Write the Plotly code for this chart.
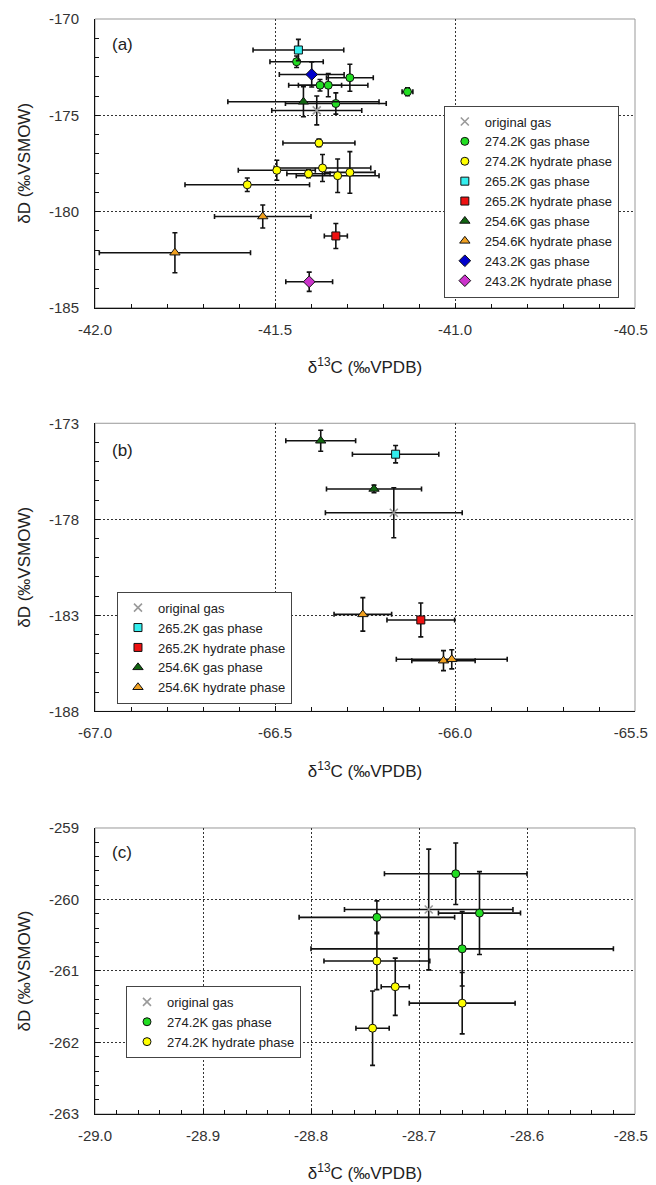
import plotly.graph_objects as go

# ---------------- Panel (a) data ----------------
A_ORIG_X = [-41.384]; A_ORIG_Y = [-174.75]; A_ORIG_XE = [0.125]; A_ORIG_YE = [0.75]
A_G274_X = [-41.440, -41.292, -41.375, -41.352, -41.331, -41.132]
A_G274_Y = [-172.22, -173.05, -173.44, -173.44, -174.39, -173.78]
A_G274_XE = [0.074, 0.065, 0.06, 0.11, 0.14, 0.015]
A_G274_YE = [0.3, 0.7, 0.3, 0.6, 0.55, 0.2]
A_H274_X = [-41.378, -41.495, -41.407, -41.368, -41.326, -41.292, -41.577]
A_H274_Y = [-176.44, -177.86, -178.04, -177.74, -178.14, -177.97, -178.61]
A_H274_XE = [0.10, 0.107, 0.06, 0.134, 0.115, 0.07, 0.173]
A_H274_YE = [0.2, 0.52, 0.2, 0.7, 0.87, 1.08, 0.35]
A_G265_X = [-41.435]; A_G265_Y = [-171.61]; A_G265_XE = [0.126]; A_G265_YE = [0.55]
A_H265_X = [-41.331]; A_H265_Y = [-181.27]; A_H265_XE = [0.032]; A_H265_YE = [0.65]
A_G254_X = [-41.421]; A_G254_Y = [-174.30]; A_G254_XE = [0.21]; A_G254_YE = [0.78]
A_H254_X = [-41.534, -41.778]; A_H254_Y = [-180.26, -182.14]
A_H254_XE = [0.134, 0.21]; A_H254_YE = [0.6, 1.04]
A_G243_X = [-41.398]; A_G243_Y = [-172.88]; A_G243_XE = [0.09]; A_G243_YE = [0.65]
A_H243_X = [-41.405]; A_H243_Y = [-183.65]; A_H243_XE = [0.065]; A_H243_YE = [0.5]
A_XTICKS = [-42.0, -41.5, -41.0, -40.5]
A_YTICKS = [-185, -180, -175, -170]

# ---------------- Panel (b) data ----------------
B_ORIG_X = [-66.17]; B_ORIG_Y = [-177.66]; B_ORIG_XE = [0.19]; B_ORIG_YE = [1.3]
B_G265_X = [-66.165]; B_G265_Y = [-174.61]; B_G265_XE = [0.12]; B_G265_YE = [0.45]
B_H265_X = [-66.095]; B_H265_Y = [-183.24]; B_H265_XE = [0.094]; B_H265_YE = [0.88]
B_G254_X = [-66.373, -66.225]; B_G254_Y = [-173.91, -176.42]
B_G254_XE = [0.097, 0.132]; B_G254_YE = [0.55, 0.2]
B_H254_X = [-66.256, -66.032, -66.009]; B_H254_Y = [-182.95, -185.36, -185.29]
B_H254_XE = [0.08, 0.088, 0.154]; B_H254_YE = [0.87, 0.52, 0.5]
B_XTICKS = [-67.0, -66.5, -66.0, -65.5]
B_YTICKS = [-188, -183, -178, -173]

# ---------------- Panel (c) data ----------------
C_ORIG_X = [-28.691]; C_ORIG_Y = [-260.14]; C_ORIG_XE = [0.078]; C_ORIG_YE = [0.845]
C_G274_X = [-28.666, -28.644, -28.739, -28.660]
C_G274_Y = [-259.64, -260.19, -260.25, -260.69]
C_G274_XE = [0.066, 0.038, 0.072, 0.14]
C_G274_YE = [0.43, 0.58, 0.23, 0.52]
C_H274_X = [-28.739, -28.722, -28.660, -28.743]
C_H274_Y = [-260.86, -261.22, -261.45, -261.80]
C_H274_XE = [0.049, 0.013, 0.049, 0.0154]
C_H274_YE = [0.40, 0.40, 0.43, 0.52]
C_XTICKS = [-29.0, -28.9, -28.8, -28.7, -28.6, -28.5]
C_YTICKS = [-263, -262, -261, -260, -259]

# ---------------- styles ----------------
FONT = "Liberation Sans, Arial, sans-serif"
STY = {
    "orig": dict(name="original gas", symbol="x-thin", color="#9a9a9a", size=8),
    "g274": dict(name="274.2K gas phase", symbol="circle", color="#22dd22", size=8),
    "h274": dict(name="274.2K hydrate phase", symbol="circle", color="#ffff00", size=8),
    "g265": dict(name="265.2K gas phase", symbol="square", color="#33eeee", size=8),
    "h265": dict(name="265.2K hydrate phase", symbol="square", color="#ee1111", size=8),
    "g254": dict(name="254.6K gas phase", symbol="triangle-up", color="#116611", size=9),
    "h254": dict(name="254.6K hydrate phase", symbol="triangle-up", color="#f0a020", size=9),
    "g243": dict(name="243.2K gas phase", symbol="diamond", color="#0000cc", size=9),
    "h243": dict(name="243.2K hydrate phase", symbol="diamond", color="#cc33cc", size=9),
}

fig = go.Figure()


def add(key, x, y, xe, ye, axn, legend):
    s = STY[key]
    if key == "orig":
        marker = dict(symbol=s["symbol"], size=s["size"], color=s["color"],
                      line=dict(color=s["color"], width=1.6))
    else:
        marker = dict(symbol=s["symbol"], size=s["size"], color=s["color"],
                      line=dict(color="#111111", width=1))
    suffix = "" if axn == 1 else str(axn)
    fig.add_trace(go.Scatter(
        x=x, y=y, mode="markers", name=s["name"], marker=marker,
        error_x=dict(type="data", array=xe, color="#111111", thickness=1.6, width=2.5),
        error_y=dict(type="data", array=ye, color="#111111", thickness=1.6, width=2.5),
        xaxis="x" + suffix, yaxis="y" + suffix, legend=legend,
    ))


# Panel (a)
add("orig", A_ORIG_X, A_ORIG_Y, A_ORIG_XE, A_ORIG_YE, 1, "legend")
add("g274", A_G274_X, A_G274_Y, A_G274_XE, A_G274_YE, 1, "legend")
add("h274", A_H274_X, A_H274_Y, A_H274_XE, A_H274_YE, 1, "legend")
add("g265", A_G265_X, A_G265_Y, A_G265_XE, A_G265_YE, 1, "legend")
add("h265", A_H265_X, A_H265_Y, A_H265_XE, A_H265_YE, 1, "legend")
add("g254", A_G254_X, A_G254_Y, A_G254_XE, A_G254_YE, 1, "legend")
add("h254", A_H254_X, A_H254_Y, A_H254_XE, A_H254_YE, 1, "legend")
add("g243", A_G243_X, A_G243_Y, A_G243_XE, A_G243_YE, 1, "legend")
add("h243", A_H243_X, A_H243_Y, A_H243_XE, A_H243_YE, 1, "legend")
# Panel (b)
add("orig", B_ORIG_X, B_ORIG_Y, B_ORIG_XE, B_ORIG_YE, 2, "legend2")
add("g265", B_G265_X, B_G265_Y, B_G265_XE, B_G265_YE, 2, "legend2")
add("h265", B_H265_X, B_H265_Y, B_H265_XE, B_H265_YE, 2, "legend2")
add("g254", B_G254_X, B_G254_Y, B_G254_XE, B_G254_YE, 2, "legend2")
add("h254", B_H254_X, B_H254_Y, B_H254_XE, B_H254_YE, 2, "legend2")
# Panel (c)
add("orig", C_ORIG_X, C_ORIG_Y, C_ORIG_XE, C_ORIG_YE, 3, "legend3")
add("g274", C_G274_X, C_G274_Y, C_G274_XE, C_G274_YE, 3, "legend3")
add("h274", C_H274_X, C_H274_Y, C_H274_XE, C_H274_YE, 3, "legend3")

GRID = dict(showgrid=True, gridcolor="#333333", gridwidth=1, griddash="2px,2px")
TICKFONT = dict(family=FONT, size=15, color="#333333")
TITLEFONT = dict(family=FONT, size=17, color="#222222")
XTITLE = "δ<sup>13</sup>C (‰VPDB)"
YTITLE = "δD (‰VSMOW)"
NB = "\u00a0"


def xlabels(ticks):
    # plain hyphen-minus as in the reference; the right-most label is nudged
    # left a little (trailing no-break spaces) so it stays inside the page
    out = [format(v, ".1f") for v in ticks]
    out[-1] = out[-1] + NB * 2
    return out


def xax(rng, ticks, minor, anchor):
    return dict(range=rng, tickvals=ticks, ticktext=xlabels(ticks),
                ticks="inside", ticklabeloverflow="allow",
                ticklen=5, tickcolor="#111111", showline=True, linecolor="#111111",
                linewidth=1, mirror=False, zeroline=False, tickfont=TICKFONT,
                ticklabelstandoff=8, automargin=False,
                minor=dict(dtick=minor, tick0=rng[0], ticks="inside", ticklen=4,
                           tickcolor="#111111", showgrid=False),
                title=dict(text=XTITLE, font=TITLEFONT, standoff=24),
                anchor=anchor, **GRID)


def yax(rng, ticks, minor, domain, anchor):
    return dict(range=rng, tickvals=ticks, ticktext=[format(v, "d") for v in ticks],
                ticks="inside", ticklabeloverflow="allow", ticklen=5,
                tickcolor="#111111", showline=True, linecolor="#111111", linewidth=1,
                mirror=False, zeroline=False, tickfont=TICKFONT, ticklabelstandoff=12,
                automargin=False,
                minor=dict(dtick=minor, tick0=rng[0], ticks="inside", ticklen=4,
                           tickcolor="#111111", showgrid=False),
                title=dict(text=YTITLE, font=TITLEFONT, standoff=14),
                domain=domain, anchor=anchor, **GRID)


LEG = dict(bgcolor="white", bordercolor="#444444", borderwidth=1,
           font=dict(family=FONT, size=13, color="#222222"),
           xanchor="left", yanchor="top", itemwidth=30, tracegroupgap=0)

# the page body has an 8px margin: the figure is sized/offset so that the
# plotting areas land on the reference's pixel positions
fig.update_layout(
    width=648, height=1177,
    margin=dict(l=87, r=21, t=11, b=71, autoexpand=False),
    paper_bgcolor="white", plot_bgcolor="white",
    xaxis=xax([-42.0, -40.5], A_XTICKS, 0.1, "y"),
    yaxis=yax([-185, -170], A_YTICKS, 1, [0.7363, 1.0], "x"),
    xaxis2=xax([-67.0, -65.5], B_XTICKS, 0.1, "y2"),
    yaxis2=yax([-188, -173], B_YTICKS, 1, [0.3677, 0.6308], "x2"),
    xaxis3=xax([-29.0, -28.5], C_XTICKS, 0.02, "y3"),
    yaxis3=yax([-263, -259], C_YTICKS, 0.2, [0.0, 0.2612], "x3"),
    legend=dict(x=0.646, y=0.921, **LEG),
    legend2=dict(x=0.0407, y=0.477, **LEG),
    legend3=dict(x=0.0574, y=0.117, **LEG),
    showlegend=True,
)

# grey frame (top / right)
for xs, ys in (("x", "y"), ("x2", "y2"), ("x3", "y3")):
    fig.add_shape(type="rect", xref=xs + " domain", yref=ys + " domain",
                  x0=0, x1=1, y0=0, y1=1, line=dict(color="#999999", width=1),
                  layer="below")

# panel labels
for xs, ys, lab_, yy in (("x", "y", "(a)", 0.912), ("x2", "y2", "(b)", 0.907),
                         ("x3", "y3", "(c)", 0.916)):
    fig.add_annotation(xref=xs + " domain", yref=ys + " domain", x=0.028, y=yy,
                       text=lab_, showarrow=False, xanchor="left", yanchor="middle",
                       font=dict(family=FONT, size=17, color="#222222"))

fig.write_html("out.html")
